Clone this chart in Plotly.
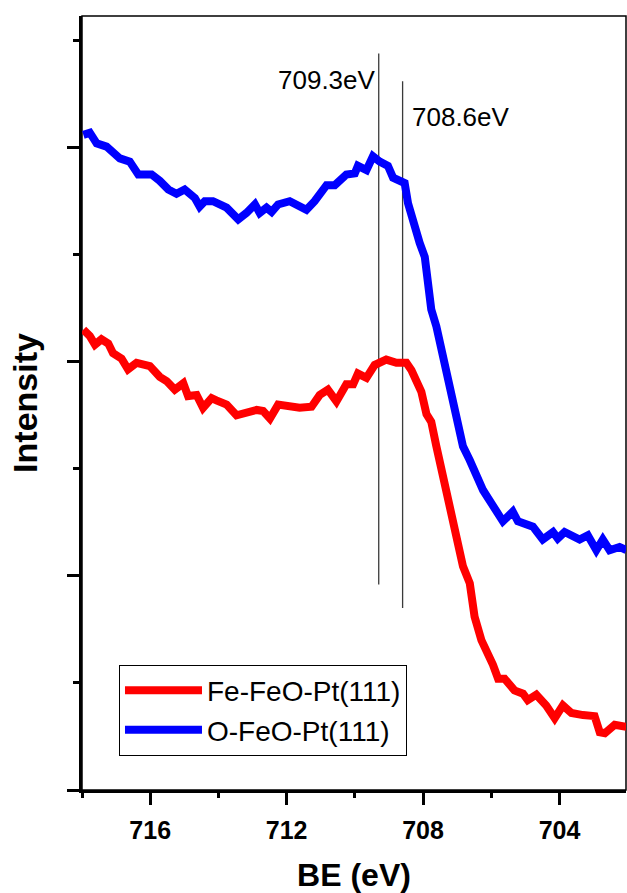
import plotly.graph_objects as go

# ---- data ----
BE_RED = [717.96, 717.77, 717.62, 717.43, 717.23, 717.09, 716.84, 716.65, 716.40, 716.01,
          715.72, 715.52, 715.28, 715.03, 714.89, 714.64, 714.45, 714.20, 714.06, 713.76,
          713.47, 713.18, 712.88, 712.69, 712.49, 712.25, 711.96, 711.62, 711.27, 711.03,
          710.79, 710.54, 710.25, 710.05, 709.91, 709.66, 709.42, 709.08, 708.78, 708.49,
          708.34, 708.20, 708.05, 707.90, 707.76, 707.61, 707.46, 707.22, 707.03, 706.83,
          706.63, 706.49, 706.29, 706.10, 705.95, 705.80, 705.61, 705.32, 705.07, 704.93,
          704.68, 704.39, 704.14, 703.90, 703.65, 703.31, 702.97, 702.82, 702.67, 702.38,
          702.04]
INT_RED = [4.30, 4.24, 4.16, 4.21, 4.17, 4.08, 4.03, 3.93, 3.99, 3.96,
           3.86, 3.82, 3.74, 3.80, 3.68, 3.69, 3.57, 3.66, 3.64, 3.60,
           3.50, 3.52, 3.55, 3.54, 3.47, 3.60, 3.58, 3.57, 3.58, 3.69,
           3.74, 3.63, 3.79, 3.79, 3.89, 3.85, 3.97, 4.02, 3.99, 3.99,
           3.92, 3.80, 3.72, 3.51, 3.44, 3.21, 2.99, 2.68, 2.37, 2.09,
           1.93, 1.62, 1.40, 1.28, 1.17, 1.04, 1.04, 0.93, 0.90, 0.84,
           0.89, 0.79, 0.67, 0.79, 0.72, 0.70, 0.69, 0.54, 0.53, 0.61,
           0.59]

BE_BLUE = [717.96, 717.77, 717.57, 717.28, 716.89, 716.60, 716.35, 715.96, 715.72, 715.47,
           715.23, 714.99, 714.69, 714.55, 714.40, 714.16, 713.76, 713.42, 713.18, 712.93,
           712.79, 712.59, 712.44, 712.25, 711.91, 711.67, 711.42, 711.18, 710.83, 710.59,
           710.25, 710.00, 709.91, 709.66, 709.47, 709.27, 709.03, 708.88, 708.74, 708.54,
           708.44, 708.30, 708.10, 707.95, 707.86, 707.76, 707.61, 707.46, 707.27, 707.12,
           706.98, 706.83, 706.63, 706.44, 706.24, 706.00, 705.80, 705.66, 705.37, 705.22,
           704.78, 704.49, 704.19, 704.05, 703.85, 703.41, 703.17, 702.92, 702.73, 702.53,
           702.24, 702.04]
INT_BLUE = [6.12, 6.14, 6.04, 6.01, 5.90, 5.87, 5.75, 5.75, 5.69, 5.61,
            5.57, 5.61, 5.53, 5.45, 5.50, 5.50, 5.44, 5.33, 5.39, 5.47,
            5.39, 5.44, 5.40, 5.47, 5.50, 5.47, 5.42, 5.50, 5.65, 5.65,
            5.75, 5.76, 5.83, 5.79, 5.92, 5.87, 5.83, 5.72, 5.70, 5.67,
            5.48, 5.30, 5.11, 4.98, 4.77, 4.49, 4.33, 4.11, 3.86, 3.61,
            3.43, 3.21, 3.08, 2.93, 2.80, 2.68, 2.57, 2.51, 2.60, 2.51,
            2.46, 2.34, 2.41, 2.35, 2.41, 2.34, 2.38, 2.24, 2.34, 2.24,
            2.27, 2.24]

SERIES_NAMES = ["Fe-FeO-Pt(111)", "O-FeO-Pt(111)"]
SERIES_COLORS = ["#ff0000", "#0000ff"]

X_TICKS = [716, 712, 708, 704]
X_MINOR = [718, 714, 710, 706, 702]
Y_TICKS = [0, 2, 4, 6]
Y_MINOR = [1, 3, 5, 7]
X_RANGE = [718, 702.05]
Y_RANGE = [0, 7.23]

PEAK_POS = [709.3, 708.6]
PEAK_LABELS = ["709.3eV", "708.6eV"]
PEAK_TOP = [6.88, 6.62]
PEAK_BOTTOM = [1.92, 1.70]
PEAK_LABEL_Y = [6.63, 6.29]

FONT = "Arial, 'Liberation Sans', sans-serif"

fig = go.Figure()

# marker lines for the two peak positions
for pos, top, bot in zip(PEAK_POS, PEAK_TOP, PEAK_BOTTOM):
    fig.add_trace(go.Scatter(x=[pos, pos], y=[bot, top], mode="lines",
                             line=dict(color="#3a3a3a", width=1.3),
                             showlegend=False, hoverinfo="skip"))

for name, color, xs, ys in zip(SERIES_NAMES, SERIES_COLORS,
                               [BE_RED, BE_BLUE], [INT_RED, INT_BLUE]):
    fig.add_trace(go.Scatter(x=xs, y=ys, mode="lines", name=name,
                             line=dict(color=color, width=8)))

# peak labels
fig.add_annotation(x=PEAK_POS[0], y=PEAK_LABEL_Y[0], text=PEAK_LABELS[0],
                   showarrow=False, xanchor="right", xshift=-1,
                   font=dict(family=FONT, size=26, color="black"))
fig.add_annotation(x=PEAK_POS[1], y=PEAK_LABEL_Y[1], text=PEAK_LABELS[1],
                   showarrow=False, xanchor="left", xshift=7,
                   font=dict(family=FONT, size=26, color="black"))

# thin frame on top / right
fig.add_shape(type="rect", xref="paper", yref="paper", x0=0, x1=1, y0=0, y1=1,
              line=dict(color="black", width=1.5), layer="below")

fig.update_layout(
    width=627, height=893,
    margin=dict(l=82, r=1, t=16, b=103),
    paper_bgcolor="white", plot_bgcolor="white",
    font=dict(family=FONT, color="black"),
    legend=dict(x=0.068, y=0.162, xanchor="left", yanchor="top",
                bordercolor="black", borderwidth=1, bgcolor="white",
                font=dict(family=FONT, size=28, color="black"),
                itemwidth=77, tracegroupgap=0),
    xaxis=dict(range=X_RANGE, tickmode="array", tickvals=X_TICKS,
               ticktext=[str(v) for v in X_TICKS],
               ticks="outside", ticklen=12, tickwidth=3, tickcolor="black",
               ticklabelstandoff=4,
               minor=dict(tickvals=X_MINOR, ticks="outside", ticklen=5,
                          tickwidth=3, tickcolor="black"),
               showline=True, linewidth=3, linecolor="black",
               showgrid=False, zeroline=False,
               tickfont=dict(family=FONT, size=25, weight="bold", color="black"),
               title=dict(text="BE (eV)", standoff=26,
                          font=dict(family=FONT, size=32, weight="bold", color="black"))),
    yaxis=dict(range=Y_RANGE, tickmode="array", tickvals=Y_TICKS,
               showticklabels=False,
               ticks="outside", ticklen=12, tickwidth=3, tickcolor="black",
               minor=dict(tickvals=Y_MINOR, ticks="outside", ticklen=6,
                          tickwidth=3, tickcolor="black"),
               showline=True, linewidth=3, linecolor="black",
               showgrid=False, zeroline=False,
               title=dict(text="Intensity", standoff=20,
                          font=dict(family=FONT, size=34, weight="bold", color="black"))),
)

# remove the browser's default 8px body margin so the figure fills the window exactly
fig.write_html("out.html",
               config=dict(displayModeBar=False),
               post_script="document.body.style.margin='0';document.body.style.overflow='hidden';")
